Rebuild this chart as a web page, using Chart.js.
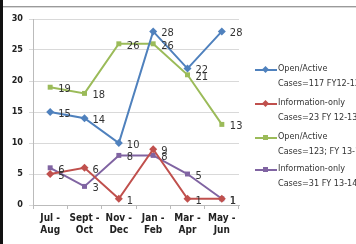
<!DOCTYPE html>
<html><head><meta charset="utf-8">
<script src="https://cdn.jsdelivr.net/npm/chart.js@4"></script>
<style>
html,body{margin:0;padding:0;background:#fff;}
#wrap{position:relative;width:356px;height:244px;overflow:hidden;}
#c{position:absolute;left:0;top:0;}
.frameL{position:absolute;left:0;top:0;width:3px;height:244px;background:#111;}
.frameT{position:absolute;left:3px;top:6px;width:353px;height:1px;background:#9a9a9a;}
.frameT2{position:absolute;left:3px;top:7px;width:353px;height:1px;background:#d8d8d8;}
#legend{position:absolute;left:255px;top:0;width:101px;height:244px;overflow:hidden;font-family:"DejaVu Sans Condensed","DejaVu Sans",sans-serif;font-stretch:condensed;font-size:9px;color:#333;}
.item{position:absolute;left:0;white-space:nowrap;}
.ln{position:absolute;left:0;width:22px;height:2px;}
.mk{position:absolute;width:5px;height:5px;left:8px;}
.t1{position:absolute;left:23px;white-space:nowrap;}
.t2{position:absolute;left:23px;white-space:nowrap;}
</style></head>
<body><div id="wrap"><canvas id="c" width="356" height="244"></canvas>
<div class="frameL"></div><div class="frameT"></div><div class="frameT2"></div>
<div id="legend"></div></div>
<script>
const categories = [["Jul -","Aug"],["Sept -","Oct"],["Nov -","Dec"],["Jan -","Feb"],["Mar -","Apr"],["May -","Jun"]];
const openActive1213 = [15,14,10,28,22,28];
const infoOnly1213 = [5,6,1,9,1,1];
const openActive1314 = [19,18,26,26,21,13];
const infoOnly1314 = [6,3,8,8,5,1];
const seriesNames = [["Open/Active","Cases=117  FY12-13"],["Information-only","Cases=23  FY 12-13"],["Open/Active","Cases=123; FY 13-14"],["Information-only","Cases=31  FY 13-14"]];
const yTicks = [0,5,10,15,20,25,30];

const colors = ["#4F81BD","#C0504D","#9BBB59","#8064A2"];
const styles = ["rectRot","rectRot","rect","rect"];
const data = [openActive1213, infoOnly1213, openActive1314, infoOnly1314];
const FONT = '"DejaVu Sans Condensed","DejaVu Sans",sans-serif';

const labelPlugin = {
  id:'vals',
  afterDatasetsDraw(chart){
    const ctx = chart.ctx;
    ctx.save();
    ctx.font = '11px ' + FONT;
    ctx.fillStyle = '#333';
    ctx.textBaseline = 'middle';
    chart.data.datasets.forEach((ds,i)=>{
      const meta = chart.getDatasetMeta(i);
      meta.data.forEach((p,j)=>{
        ctx.fillText(String(ds.data[j]), p.x+8, p.y+2);
      });
    });
    ctx.restore();
  }
};

new Chart(document.getElementById('c'), {
  type:'line',
  data:{
    labels: categories,
    datasets: data.map((d,i)=>({
      label: seriesNames[i].join(' '),
      data: d,
      borderColor: colors[i],
      backgroundColor: colors[i],
      borderWidth: 2,
      pointStyle: styles[i],
      pointRadius: i<2 ? 4 : 3.5,
      pointBorderWidth: 0,
      tension: 0
    }))
  },
  options:{
    responsive:false,
    animation:false,
    devicePixelRatio:1,
    layout:{padding:{left:4,right:117,top:19,bottom:0}},
    plugins:{legend:{display:false},tooltip:{enabled:false}},
    scales:{
      x:{
        offset:true,
        grid:{display:true,drawOnChartArea:false,offset:true,tickLength:4,color:'#bbb'},
        border:{color:'#bbb'},
        ticks:{color:'#222',font:{family:FONT,size:10,weight:'bold'},padding:3,maxRotation:0,autoSkip:false},
        afterFit(s){ s.height = 39; }
      },
      y:{
        min:0,max:30,
        afterBuildTicks(s){ s.ticks = yTicks.map(v=>({value:v})); },
        grid:{color:'#d9d9d9',tickLength:4,drawTicks:true},
        border:{color:'#bbb'},
        ticks:{color:'#222',font:{family:FONT,size:9,weight:'bold'},padding:6},
        afterFit(s){ s.width = 29; }
      }
    }
  },
  plugins:[labelPlugin]
});

const lg = document.getElementById('legend');
const ys = [69,103,137,169];
seriesNames.forEach((n,i)=>{
  const it = document.createElement('div');
  it.className='item';
  it.style.top = ys[i]+'px';
  it.innerHTML = `<div class="ln" style="top:0;background:${colors[i]}"></div>`+
    `<div class="mk" style="top:-2px;background:${colors[i]};${styles[i]==='rectRot'?'transform:rotate(45deg);':''}"></div>`+
    `<div class="t1" style="top:-6px">${n[0]}</div><div class="t2" style="top:9px">${n[1]}</div>`;
  lg.appendChild(it);
});
</script></body></html>
